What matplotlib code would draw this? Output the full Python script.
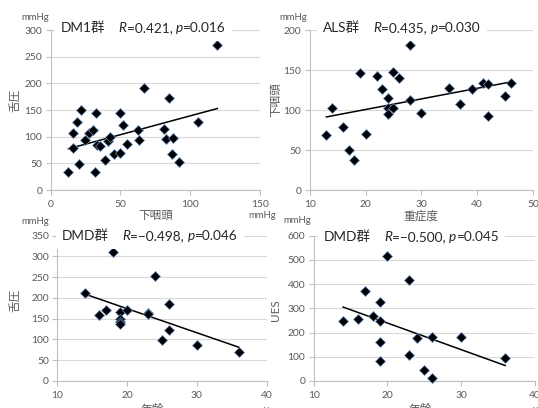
import matplotlib
matplotlib.use('Agg')
import matplotlib.pyplot as plt
import numpy as np
from matplotlib.offsetbox import TextArea, HPacker, AnnotationBbox

FAM = ['Lato', 'Noto Sans CJK JP', 'DejaVu Sans']
plt.rcParams['font.family'] = FAM

# ---------------- data ----------------
dm1_x = [12.7, 16.2, 16.2, 18.6, 20.3, 21.7, 24.8, 27.7, 30.6, 31.5, 32.7, 33.4,
         35.3, 38.9, 40.8, 42.5, 45.6, 49.9, 49.9, 51.6, 54.5, 62.3, 63.1, 67.1,
         81.2, 82.4, 84.8, 87.9, 86.7, 92.2, 105.6, 119.4]
dm1_y = [34, 78, 107.5, 128, 48, 150, 94, 107, 113, 34, 144, 85,
         83, 56, 91, 100, 67, 69, 144, 122.5, 86, 112.5, 94, 191,
         115, 96, 172.5, 98, 67.5, 52, 128, 271]

als_x = [13, 14, 16, 17, 18, 19, 20, 22, 23, 24, 24, 24, 25, 25, 26, 28, 28,
         30, 35, 37, 39, 41, 42, 42, 45, 46]
als_y = [69, 102, 79, 50, 38, 146, 70, 142, 126, 115, 103, 95, 148, 103, 140,
         181, 112, 96, 127, 107, 126, 134, 132, 92, 118, 134]

dmd1_x = [14, 16, 17, 18, 19, 19, 19, 19, 20, 23, 23, 24, 25, 26, 26, 30, 36]
dmd1_y = [211, 159, 172, 311, 167, 150, 143, 137, 172, 165, 161, 253, 99, 185,
          122, 87, 71]

dmd2_x = [14, 16, 17, 18, 19, 19, 19, 19, 20, 23, 23, 24, 25, 26, 26, 30, 36]
dmd2_y = [248, 255, 373, 270, 325, 249, 162, 81, 515, 416, 107, 179, 45, 183,
          11, 183, 95]

groups = ['DM1群', 'ALS群', 'DMD群', 'DMD群']
r_values = ['0.421', '0.435', '\u22120.498', '\u22120.500']
p_values = ['0.016', '0.030', '0.046', '0.045']
y_labels = ['舌圧', '下咽頭', '舌圧', 'UES']
x_labels = ['下咽頭', '重症度', '年齢', '年齢']
x_units = ['mmHg', '', 'y', 'y']
y_unit = 'mmHg'

xlims = [(0, 150), (10, 50), (10, 40), (10, 40)]
xsteps = [50, 10, 10, 10]
ylims = [(0, 300), (0, 200), (0, 350), (0, 600)]
ysteps = [50, 50, 50, 100]

# ---------------- layout ----------------
W, H = 538, 408
fig = plt.figure(figsize=(W / 100, H / 100), dpi=100)


def add_ax(l, t, r, b):
    return fig.add_axes([l / W, 1 - b / H, (r - l) / W, (b - t) / H])


rects = [(50.7, 30, 260, 190), (309.7, 30, 533, 190),
         (57.3, 235.7, 266.7, 381), (313.7, 235.7, 534.7, 381)]
title_pos = [(61, 28), (323, 28), (62, 236), (324, 237)]
yunit_pos = [(35, 17), (293, 17), (35, 222), (297, 221)]
ylab_pos = [(15, 100), (276, 100), (15, 300), (275, 310)]
xlab_pos = [(156, 216), (421, 216), (152, 409), (420, 409)]
xunit_pos = [(262, 215), None, (266, 409), (535, 409)]

datasets = [(dm1_x, dm1_y), (als_x, als_y), (dmd1_x, dmd1_y), (dmd2_x, dmd2_y)]

GRID = '#d9d9d9'
AXC = '#bfbfbf'
TXT = '#595959'

for i, (rect, (xs, ys)) in enumerate(zip(rects, datasets)):
    ax = add_ax(*rect)
    xs = np.array(xs, float)
    ys = np.array(ys, float)
    ax.set_xlim(*xlims[i])
    ax.set_ylim(*ylims[i])
    ax.set_xticks(np.arange(xlims[i][0], xlims[i][1] + 1e-9, xsteps[i]))
    ax.set_yticks(np.arange(ylims[i][0], ylims[i][1] + 1e-9, ysteps[i]))
    for s in ['top', 'right']:
        ax.spines[s].set_visible(False)
    for s in ['left', 'bottom']:
        ax.spines[s].set_color(AXC)
        ax.spines[s].set_linewidth(0.8)
    ax.grid(axis='y', color=GRID, linewidth=0.8, zorder=0)
    ax.set_axisbelow(True)
    ax.tick_params(axis='both', colors=AXC, labelcolor=TXT, labelsize=7.4,
                   length=3.5, width=0.8)
    ax.tick_params(axis='x', pad=4)
    ax.tick_params(axis='y', pad=2.5)

    # trend line (least squares fit)
    k, c = np.polyfit(xs, ys, 1)
    xl = np.array([xs.min(), xs.max()])
    ax.plot(xl, k * xl + c, color='black', linewidth=1.1, zorder=3)

    ax.plot(xs, ys, linestyle='none', marker='D', markersize=5,
            markerfacecolor='black', markeredgecolor='#6a8fc4',
            markeredgewidth=0.5, zorder=4, clip_on=False)

    # title with italic R and p
    tp = dict(fontsize=9.8, color='#262626', family=FAM)
    tpi = dict(tp, style='italic')
    stat = HPacker(children=[TextArea('R', textprops=tpi),
                             TextArea('=' + r_values[i] + ', ', textprops=tp),
                             TextArea('p', textprops=tpi),
                             TextArea('=' + p_values[i], textprops=tp)],
                   sep=0, pad=0, align='baseline')
    box = HPacker(children=[TextArea(groups[i], textprops=tp), stat],
                  sep=9.5, pad=0, align='baseline')
    tx, ty = title_pos[i]
    ab = AnnotationBbox(box, (tx, H - ty), xycoords='figure pixels',
                        box_alignment=(0, 0.5), frameon=True, pad=0.45,
                        bboxprops=dict(facecolor='white', edgecolor='none'),
                        annotation_clip=False, zorder=5)
    ax.add_artist(ab)

    # labels
    ux, uy = yunit_pos[i]
    fig.text(ux / W, 1 - uy / H, y_unit, ha='center', va='center',
             fontsize=6.8, color=TXT)
    lx, ly = ylab_pos[i]
    fig.text(lx / W, 1 - ly / H, y_labels[i], ha='center', va='center',
             rotation=90, fontsize=8.4, color=TXT)
    lx, ly = xlab_pos[i]
    fig.text(lx / W, 1 - ly / H, x_labels[i], ha='center', va='center',
             fontsize=8.4, color=TXT)
    if xunit_pos[i] is not None:
        ux, uy = xunit_pos[i]
        fig.text(ux / W, 1 - uy / H, x_units[i], ha='center', va='center',
                 fontsize=6.8, color=TXT)

fig.savefig('out.png', dpi=100)
